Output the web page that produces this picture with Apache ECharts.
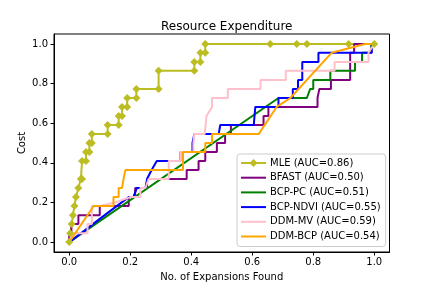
<!DOCTYPE html>
<html><head><meta charset="utf-8">
<script src="https://cdn.jsdelivr.net/npm/echarts@6/dist/echarts.min.js"></script>
<style>html,body{margin:0;padding:0;background:#fff}#c{width:432px;height:288px}</style>
</head><body><div id="c"></div>
<script>
const titleText = 'Resource Expenditure';
const xName = 'No. of Expansions Found';
const yName = 'Cost';
const names = ['MLE (AUC=0.86)','BFAST (AUC=0.50)','BCP-PC (AUC=0.51)','BCP-NDVI (AUC=0.55)','DDM-MV (AUC=0.59)','DDM-BCP (AUC=0.54)'];
const colors = ['#bcbd22','#800080','#008000','#0000ff','#ffc0cb','#ffa500'];

const mleX = [0,0.003,0.008,0.012,0.017,0.022,0.03,0.038,0.042,0.042,0.055,0.055,0.066,0.066,0.074,0.074,0.126,0.126,0.162,0.162,0.173,0.173,0.19,0.19,0.22,0.22,0.293,0.293,0.41,0.41,0.43,0.43,0.446,0.446,0.659,0.746,0.779,0.916,1];
const mleY = [0,0.045,0.091,0.136,0.182,0.227,0.273,0.318,0.318,0.409,0.409,0.455,0.455,0.5,0.5,0.545,0.545,0.591,0.591,0.636,0.636,0.682,0.682,0.727,0.727,0.773,0.773,0.864,0.864,0.909,0.909,0.955,0.955,1,1,1,1,1,1];

const bfastX = [0,0,0.007,0.007,0.03,0.03,0.1,0.1,0.195,0.195,0.216,0.216,0.255,0.255,0.385,0.385,0.424,0.424,0.446,0.446,0.484,0.484,0.511,0.511,0.53,0.53,0.637,0.637,0.653,0.653,0.814,0.814,0.82,0.82,0.858,0.858,0.921,0.921,0.934,0.934,1];
const bfastY = [0,0.045,0.045,0.091,0.091,0.136,0.136,0.182,0.182,0.227,0.227,0.273,0.273,0.318,0.318,0.364,0.364,0.409,0.409,0.455,0.455,0.5,0.5,0.545,0.545,0.591,0.591,0.636,0.636,0.682,0.682,0.727,0.727,0.773,0.773,0.818,0.818,0.955,0.955,1,1];

const bcpPcX = [0,0.686,0.779,0.79,0.8,0.8,0.856,0.856,0.937,0.937,0.96,0.96,0.99,0.99,1];
const bcpPcY = [0,0.727,0.727,0.773,0.773,0.818,0.818,0.864,0.864,0.909,0.909,0.955,0.955,1,1];

const ndviX = [0,0.05,0.1,0.15,0.195,0.21,0.222,0.25,0.255,0.27,0.287,0.364,0.364,0.404,0.404,0.41,0.49,0.495,0.605,0.61,0.686,0.686,0.733,0.733,0.75,0.75,0.764,0.764,0.817,0.817,0.992,0.992,1];
const ndviY = [0,0.058,0.117,0.175,0.227,0.227,0.273,0.273,0.318,0.364,0.409,0.409,0.455,0.455,0.5,0.545,0.545,0.591,0.591,0.682,0.682,0.727,0.727,0.773,0.773,0.818,0.818,0.909,0.909,0.955,0.955,1,1];

const mvX = [0,0.01,0.06,0.06,0.074,0.074,0.1,0.15,0.2,0.233,0.233,0.25,0.26,0.326,0.326,0.364,0.364,0.407,0.407,0.41,0.444,0.447,0.45,0.468,0.468,0.52,0.52,0.627,0.627,0.71,0.71,0.87,0.87,0.981,0.981,1];
const mvY = [0,0.045,0.045,0.091,0.091,0.182,0.182,0.2,0.227,0.227,0.273,0.273,0.318,0.318,0.409,0.409,0.455,0.455,0.5,0.545,0.545,0.591,0.636,0.682,0.727,0.727,0.773,0.773,0.818,0.818,0.864,0.864,0.909,0.909,0.955,1];

const ddmBcpX = [0,0.08,0.145,0.145,0.162,0.162,0.173,0.178,0.184,0.373,0.373,0.446,0.446,0.468,0.468,0.621,0.68,0.725,0.86,0.97,1];
const ddmBcpY = [0,0.182,0.182,0.227,0.227,0.273,0.273,0.318,0.364,0.364,0.455,0.455,0.5,0.5,0.545,0.545,0.682,0.727,0.955,1,1];

const xsList = [mleX,bfastX,bcpPcX,ndviX,mvX,ddmBcpX];
const ysList = [mleY,bfastY,bcpPcY,ndviY,mvY,ddmBcpY];

const font = 'DejaVu Sans';
const series = names.map((n,i)=>({
  name:n, type:'line',
  data: xsList[i].map((x,j)=>[x, ysList[i][j]]),
  showSymbol: i===0, symbol: i===0 ? 'diamond' : 'none', symbolSize: 8,
  color: colors[i],
  itemStyle:{color:colors[i]},
  lineStyle:{width:2,color:colors[i]},
  emphasis:{disabled:true}, animation:false
}));
const legendData = names.map((n,i)=> i===0 ? {name:n} : {name:n, icon:'path://M0,0L25,0L25,2L0,2Z'});

const chart = echarts.init(document.getElementById('c'), null, {renderer:'canvas'});
const axisCommon = {
  type:'value', min:-0.05, max:1.05, splitNumber:5,
  splitLine:{show:false},
  axisLine:{show:true,onZero:false,lineStyle:{color:'#000',width:1}},
  axisTick:{show:true,length:3.5,lineStyle:{color:'#000',width:1}},
  axisLabel:{color:'#000',fontFamily:font,fontSize:10,showMinLabel:false,showMaxLabel:false,
    formatter:v=>v.toFixed(1)},
  nameLocation:'middle', nameMoveOverlap:false,
  nameTextStyle:{color:'#000',fontFamily:font,fontSize:10}
};
chart.setOption({
  animation:false,
  title:{text:titleText,left:221.75,textAlign:'center',top:16,
    textStyle:{fontFamily:font,fontSize:12,fontWeight:'normal',color:'#000'}},
  grid:{left:54,right:42.5,top:34,bottom:36,show:true,borderColor:'#000',borderWidth:1,backgroundColor:'transparent'},
  xAxis:Object.assign({},axisCommon,{name:xName,nameGap:20,axisLabel:Object.assign({},axisCommon.axisLabel,{margin:5})}),
  yAxis:Object.assign({},axisCommon,{name:yName,nameGap:27,axisLabel:Object.assign({},axisCommon.axisLabel,{margin:6})}),
  legend:{
    orient:'vertical', left:237, top:154, selectedMode:false,
    data:legendData, itemWidth:25, itemHeight:10, itemGap:4.7,
    padding:[4,5,5,3], backgroundColor:'rgba(255,255,255,0.8)', borderColor:'#cccccc', borderWidth:1, borderRadius:3,
    textStyle:{fontFamily:font,fontSize:10,color:'#000',padding:[0,0,0,-1]}
  },
  series: series
});
</script></body></html>
